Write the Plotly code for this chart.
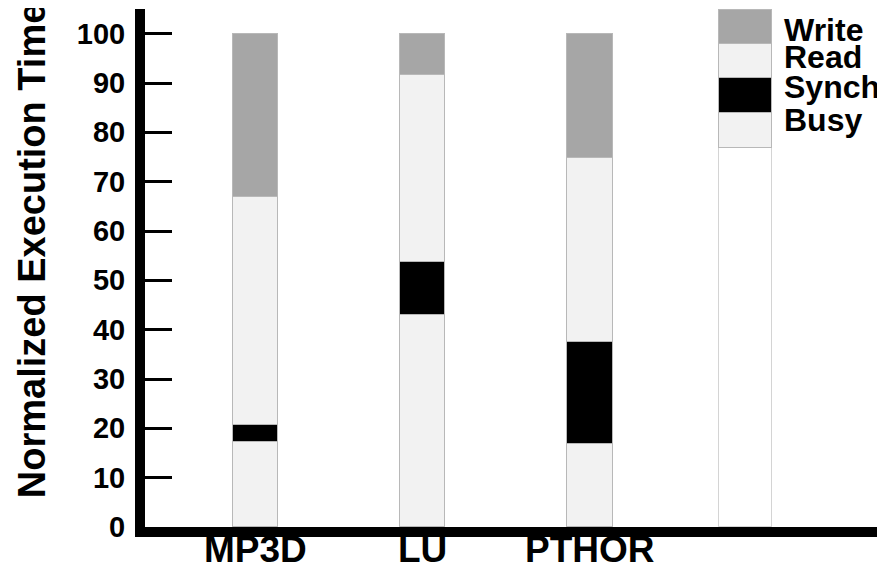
import plotly.graph_objects as go

categories = ["MP3D", "LU", "PTHOR"]
busy = [17.2, 42.9, 16.9]
synch = [3.5, 10.8, 20.6]
read = [46.1, 38.0, 37.2]
write = [33.2, 8.3, 25.3]
series_names = ["Busy", "Synch", "Read", "Write"]
# key column drawn at the right of the chart (acts as legend)
key_base = 76.8
key_segments = [7.1, 7.1, 6.9, 6.9]
y_ticks = [0, 10, 20, 30, 40, 50, 60, 70, 80, 90, 100]
y_title = "Normalized Execution Time"

FONT = "Liberation Sans, Arial, sans-serif"
colors = {"Busy": "#f2f2f2", "Synch": "#000000", "Read": "#f2f2f2", "Write": "#a6a6a6"}
xpos = [1, 2, 3]
key_x = 3.93
bw = 0.27
kw = 0.314

fig = go.Figure()
fig.add_trace(go.Bar(x=[key_x], y=[key_base], width=[kw], marker=dict(color="#ffffff", line=dict(color="#d4d4d4", width=1)), showlegend=False))
series = [busy, synch, read, write]
for i, name in enumerate(series_names):
    fig.add_trace(go.Bar(
        x=xpos + [key_x], y=series[i] + [key_segments[i]], width=[bw] * 3 + [kw],
        name=name, marker=dict(color=colors[name], line=dict(color="#b8b8b8", width=1)),
        showlegend=False))

# key labels
label_y = [82.5, 89.1, 95.3, 100.8]
for name, yv in zip(series_names, label_y):
    fig.add_annotation(x=4.15, y=yv, xref="x", yref="y", text="<b>%s</b>" % name, showarrow=False,
                       xanchor="left", yanchor="middle", font=dict(family=FONT, size=32, color="black"))

# category labels
for xv, c in zip(xpos, categories):
    fig.add_annotation(x=xv, y=-0.044, xref="x", yref="paper", text="<b>%s</b>" % c, showarrow=False,
                       xanchor="center", yanchor="middle", font=dict(family=FONT, size=37, color="black"))

fig.add_annotation(x=-0.152, y=0.534, xref="paper", yref="paper", text="<b>%s</b>" % y_title,
                   textangle=-90, showarrow=False, xanchor="center", yanchor="middle",
                   font=dict(family=FONT, size=38, color="black"))

fig.update_layout(
    barmode="stack", width=877, height=559,
    margin=dict(l=137, r=2, t=1, b=40, autoexpand=False),
    paper_bgcolor="white", plot_bgcolor="white", bargap=0,
    xaxis=dict(range=[0.337, 4.753], tickvals=xpos, showticklabels=False, automargin=False,
               showline=True, linewidth=10, linecolor="black", ticks="", showgrid=False, zeroline=False),
    yaxis=dict(range=[0, 105], tickvals=y_ticks, ticktext=["<b>%d</b>" % t for t in y_ticks],
               automargin=False, ticklabelstandoff=4,
               showline=True, linewidth=10, linecolor="black", ticks="inside", ticklen=27, tickwidth=3,
               tickcolor="black", showgrid=False, zeroline=False,
               tickfont=dict(family=FONT, size=29, color="black")),
)
fig.write_html("out.html")
